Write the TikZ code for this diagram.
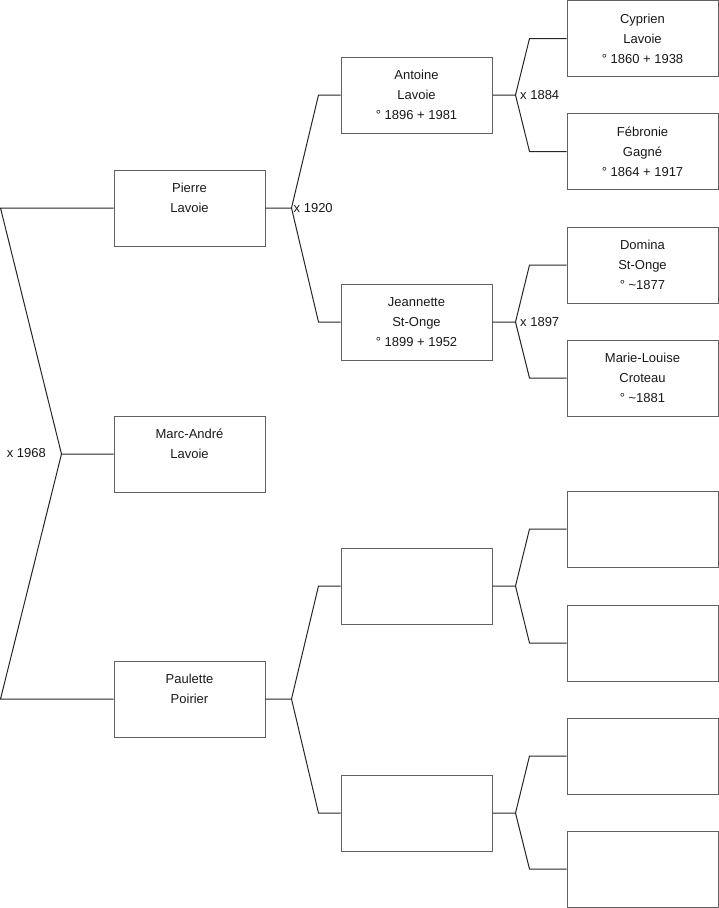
\documentclass[tikz,border=0pt]{standalone}
\usepackage{fontspec}
\setmainfont{Liberation Sans}
\begin{document}
\begin{tikzpicture}[x=1pt,y=-1pt,
  person/.style={draw=black!62, line width=1pt, minimum width=151pt, minimum height=76pt,
    inner sep=0pt, align=center, font=\fontsize{13}{20}\selectfont, text=black!90},
  link/.style={draw=black!85, line width=1pt},
  marr/.style={font=\fontsize{13}{16}\selectfont, inner sep=1.5pt, text=black!90}]
\useasboundingbox (0,0) rectangle (719,908);

% generation 2
\node[person] (pierre)   at (189.5,208) {Pierre\\Lavoie\\\vphantom{1}};
\node[person] (marc)     at (189.5,454) {Marc-André\\Lavoie\\\vphantom{1}};
\node[person] (paulette) at (189.5,699) {Paulette\\Poirier\\\vphantom{1}};

% generation 3
\node[person] (antoine)   at (416.5,95)  {Antoine\\Lavoie\\° 1896 + 1981};
\node[person] (jeannette) at (416.5,322) {Jeannette\\St-Onge\\° 1899 + 1952};
\node[person] (eA)        at (416.5,586) {};
\node[person] (eB)        at (416.5,813) {};

% generation 4
\node[person] (cyprien)  at (642.5,38.5)  {Cyprien\\Lavoie\\° 1860 + 1938};
\node[person] (febronie) at (642.5,151.5) {Fébronie\\Gagné\\° 1864 + 1917};
\node[person] (domina)   at (642.5,265)   {Domina\\St-Onge\\° \textasciitilde1877};
\node[person] (marie)    at (642.5,378)   {Marie-Louise\\Croteau\\° \textasciitilde1881};
\node[person] (e1) at (642.5,529) {};
\node[person] (e2) at (642.5,643) {};
\node[person] (e3) at (642.5,756) {};
\node[person] (e4) at (642.5,869) {};

% junctions
\coordinate (jR) at ([xshift=-52pt]marc.west);
\coordinate (jP) at ([xshift=26pt]pierre.east);
\coordinate (jQ) at ([xshift=26pt]paulette.east);
\coordinate (jA) at ([xshift=23pt]antoine.east);
\coordinate (jJ) at ([xshift=23pt]jeannette.east);
\coordinate (jE) at ([xshift=23pt]eA.east);
\coordinate (jF) at ([xshift=23pt]eB.east);

% connectors
\draw[link] (marc.west) -- (jR) -- ([xshift=-113pt]pierre.west) -- (pierre.west);
\draw[link] (jR) -- ([xshift=-113pt]paulette.west) -- (paulette.west);

\draw[link] (pierre.east) -- (jP) -- ([xshift=-22pt]antoine.west) -- (antoine.west);
\draw[link] (jP) -- ([xshift=-22pt]jeannette.west) -- (jeannette.west);
\draw[link] (paulette.east) -- (jQ) -- ([xshift=-22pt]eA.west) -- (eA.west);
\draw[link] (jQ) -- ([xshift=-22pt]eB.west) -- (eB.west);

\draw[link] (antoine.east) -- (jA) -- ([xshift=-37pt]cyprien.west) -- (cyprien.west);
\draw[link] (jA) -- ([xshift=-37pt]febronie.west) -- (febronie.west);
\draw[link] (jeannette.east) -- (jJ) -- ([xshift=-37pt]domina.west) -- (domina.west);
\draw[link] (jJ) -- ([xshift=-37pt]marie.west) -- (marie.west);
\draw[link] (eA.east) -- (jE) -- ([xshift=-37pt]e1.west) -- (e1.west);
\draw[link] (jE) -- ([xshift=-37pt]e2.west) -- (e2.west);
\draw[link] (eB.east) -- (jF) -- ([xshift=-37pt]e3.west) -- (e3.west);
\draw[link] (jF) -- ([xshift=-37pt]e4.west) -- (e4.west);

% marriage labels
\node[marr, anchor=east] (mR) at ([xshift=-14pt,yshift=1pt]jR) {x 1968};
\node[marr, anchor=west] (mP) at ([xshift=0.5pt]jP) {x 1920};
\node[marr, anchor=west] (mA) at ([xshift=3pt]jA) {x 1884};
\node[marr, anchor=west] (mJ) at ([xshift=3pt]jJ) {x 1897};
\end{tikzpicture}
\end{document}
